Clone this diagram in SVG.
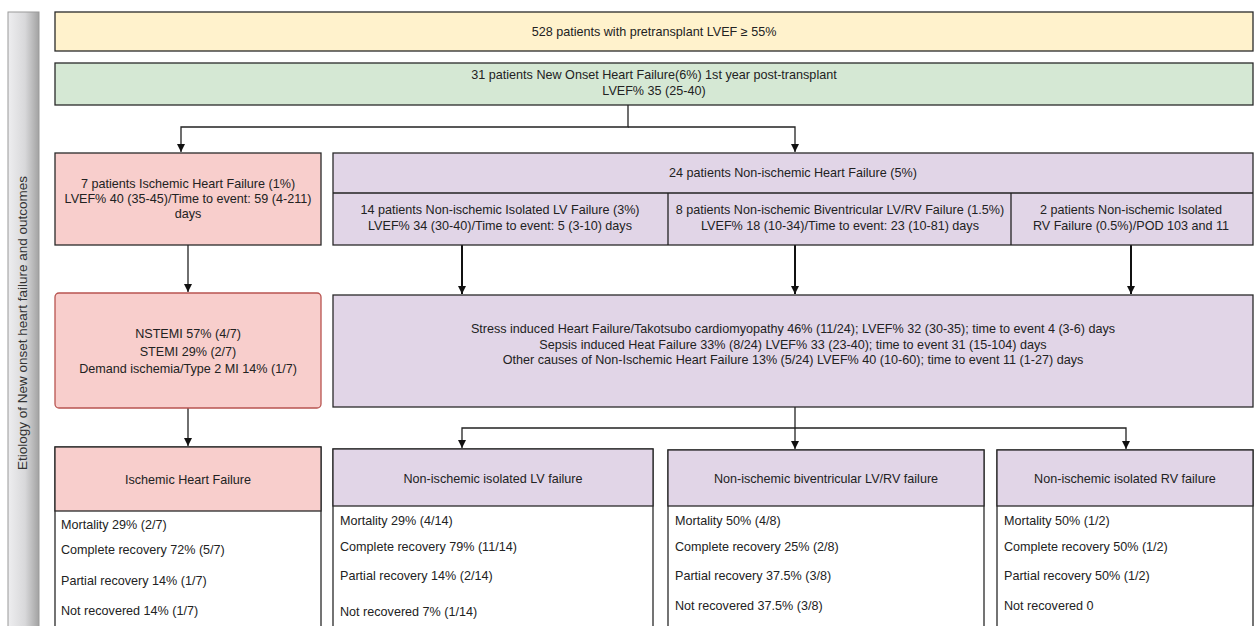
<svg xmlns="http://www.w3.org/2000/svg" width="1256" height="626" viewBox="0 0 1256 626">
<style>
text{font-family:"Liberation Sans",Arial,sans-serif;font-size:12.6px;fill:#222}
.c{text-anchor:middle}
.box{stroke:#2a2a2a;stroke-width:1.3}
.y{fill:#fff2cc}.g{fill:#d5e8d4}.r{fill:#f8cecc}.p{fill:#e1d5e7}.w{fill:#fff}
.ln{fill:none;stroke:#222;stroke-width:1.3}
.thk{fill:none;stroke:#111;stroke-width:2}
</style>
<defs>
<linearGradient id="band" x1="0" y1="0" x2="1" y2="0">
<stop offset="0" stop-color="#eeeef0"/><stop offset="0.55" stop-color="#d8d8da"/><stop offset="1" stop-color="#a2a2a2"/>
</linearGradient>
<marker id="ah" markerUnits="userSpaceOnUse" markerWidth="10" markerHeight="10" refX="8" refY="4" orient="auto">
<path d="M0,0 L8,4 L0,8 z" fill="#111"/>
</marker>
</defs>
<rect width="1256" height="626" fill="#fff"/>
<g id="band-label">
<rect x="8" y="12" width="31" height="620" fill="url(#band)" stroke="#9a9a9a" stroke-width="1"/>
<text class="c" transform="translate(27,323) rotate(-90)" style="font-size:13.5px;fill:#333">Etiology of New onset heart failure and outcomes</text>
</g>
<g id="connectors">
<path class="ln" d="M628 105 V127 H181 V152" marker-end="url(#ah)"/>
<path class="ln" d="M628 127 H795 V152" marker-end="url(#ah)"/>
<path class="ln" d="M188 245 V292" marker-end="url(#ah)"/>
<path class="thk" d="M462 245 V294" marker-end="url(#ah)"/>
<path class="thk" d="M795 245 V294" marker-end="url(#ah)"/>
<path class="thk" d="M1131 245 V294" marker-end="url(#ah)"/>
<path class="ln" d="M188 408 V446" marker-end="url(#ah)"/>
<path class="ln" d="M795 407 V449" marker-end="url(#ah)"/>
<path class="ln" d="M795 428 H462 V448" marker-end="url(#ah)"/>
<path class="ln" d="M795 428 H1126 V449" marker-end="url(#ah)"/>
</g>
<g id="n-total">
<rect class="box y" x="55" y="12" width="1198" height="39"/>
<text class="c" x="654" y="36">528 patients with pretransplant LVEF ≥ 55%</text>
</g>
<g id="n-newonset">
<rect class="box g" x="55" y="63" width="1198" height="42"/>
<text class="c" x="654" y="79">31 patients New Onset Heart Failure(6%) 1st year post-transplant</text>
<text class="c" x="654" y="95">LVEF% 35 (25-40)</text>
</g>
<g id="n-ischemic">
<rect class="box r" x="55" y="153" width="266" height="92"/>
<text class="c" x="188" y="188">7 patients Ischemic Heart Failure (1%)</text>
<text class="c" x="188" y="203">LVEF% 40 (35-45)/Time to event: 59 (4-211)</text>
<text class="c" x="188" y="218">days</text>
</g>
<g id="n-nonischemic">
<rect class="box p" x="333" y="153" width="920" height="92"/>
<line class="ln" x1="333" y1="193" x2="1253" y2="193"/>
<line class="ln" x1="668" y1="193" x2="668" y2="245"/>
<line class="ln" x1="1011" y1="193" x2="1011" y2="245"/>
<text class="c" x="793" y="177">24 patients Non-ischemic Heart Failure (5%)</text>
<text class="c" x="500" y="214">14 patients Non-ischemic Isolated LV Failure (3%)</text>
<text class="c" x="500" y="230">LVEF% 34 (30-40)/Time to event: 5 (3-10) days</text>
<text class="c" x="840" y="214">8 patients Non-ischemic Biventricular LV/RV Failure (1.5%)</text>
<text class="c" x="840" y="230">LVEF% 18 (10-34)/Time to event: 23 (10-81) days</text>
<text class="c" x="1131" y="214">2 patients Non-ischemic Isolated</text>
<text class="c" x="1131" y="230">RV Failure (0.5%)/POD 103 and 11</text>
</g>
<g id="n-ischemic-causes">
<rect class="r" x="55" y="293" width="266" height="115" rx="4" stroke="#b85450" stroke-width="1.3"/>
<text class="c" x="188" y="338">NSTEMI 57% (4/7)</text>
<text class="c" x="188" y="356">STEMI 29% (2/7)</text>
<text class="c" x="188" y="373">Demand ischemia/Type 2 MI 14% (1/7)</text>
</g>
<g id="n-nonischemic-causes">
<rect class="box p" x="333" y="295" width="920" height="112"/>
<text class="c" x="793" y="333">Stress induced Heart Failure/Takotsubo cardiomyopathy 46% (11/24); LVEF% 32 (30-35); time to event 4 (3-6) days</text>
<text class="c" x="793" y="349">Sepsis induced Heat Failure 33% (8/24) LVEF% 33 (23-40); time to event 31 (15-104) days</text>
<text class="c" x="793" y="364">Other causes of Non-Ischemic Heart Failure 13% (5/24) LVEF% 40 (10-60); time to event 11 (1-27) days</text>
</g>
<g id="n-out-ischemic">
<rect class="box w" x="55" y="447" width="266" height="190"/>
<rect class="box r" x="55" y="447" width="266" height="64"/>
<text class="c" x="188" y="484">Ischemic Heart Failure</text>
<text x="61" y="529">Mortality 29% (2/7)</text>
<text x="61" y="554">Complete recovery 72% (5/7)</text>
<text x="61" y="585">Partial recovery 14% (1/7)</text>
<text x="61" y="615">Not recovered 14% (1/7)</text>
</g>
<g id="n-out-lv">
<rect class="box w" x="333" y="449" width="320" height="190"/>
<rect class="box p" x="333" y="449" width="320" height="57"/>
<text class="c" x="493" y="483">Non-ischemic isolated LV failure</text>
<text x="340" y="525">Mortality 29% (4/14)</text>
<text x="340" y="551">Complete recovery 79% (11/14)</text>
<text x="340" y="580">Partial recovery 14% (2/14)</text>
<text x="340" y="616">Not recovered 7% (1/14)</text>
</g>
<g id="n-out-biv">
<rect class="box w" x="668" y="450" width="316" height="190"/>
<rect class="box p" x="668" y="450" width="316" height="56"/>
<text class="c" x="826" y="483">Non-ischemic biventricular LV/RV failure</text>
<text x="675" y="525">Mortality 50% (4/8)</text>
<text x="675" y="551">Complete recovery 25% (2/8)</text>
<text x="675" y="580">Partial recovery 37.5% (3/8)</text>
<text x="675" y="610">Not recovered 37.5% (3/8)</text>
</g>
<g id="n-out-rv">
<rect class="box w" x="997" y="450" width="256" height="190"/>
<rect class="box p" x="997" y="450" width="256" height="56"/>
<text class="c" x="1125" y="483">Non-ischemic isolated RV failure</text>
<text x="1004" y="525">Mortality 50% (1/2)</text>
<text x="1004" y="551">Complete recovery 50% (1/2)</text>
<text x="1004" y="580">Partial recovery 50% (1/2)</text>
<text x="1004" y="610">Not recovered 0</text>
</g>
</svg>
